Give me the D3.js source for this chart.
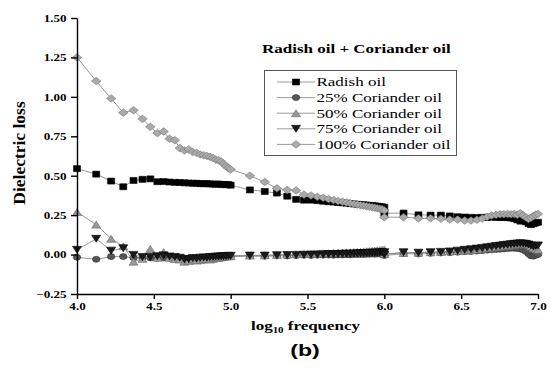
<!DOCTYPE html>
<html>
<head>
<meta charset="utf-8">
<script src="https://cdn.jsdelivr.net/npm/d3@7"></script>
<style>
  body { margin: 0; background: #fff; }
  svg { display: block; }
  svg text { font-family: "Liberation Serif", "Times New Roman", Times, serif; }
  svg text.sans { font-family: "Liberation Sans", Arial, sans-serif; }
</style>
</head>
<body>
<div id="chart"></div>
<script>
// frequency grid: one sweep per decade, offsets in log10 units
const decadeSteps = [0, 0.125, 0.222, 0.301, 0.368, 0.426, 0.477, 0.523, 0.564, 0.602, 0.637, 0.669, 0.699,
  0.727, 0.753, 0.778, 0.802, 0.824, 0.845, 0.865, 0.885, 0.903, 0.921, 0.938, 0.954, 0.970, 0.985];

const seriesNames = ["Radish oil", "25% Coriander oil", "50% Coriander oil", "75% Coriander oil", "100% Coriander oil"];

// dielectric loss (sweep 4-5, sweep 5-6 + end at 6.0, sweep 6-7 + end at 7.0)
const radish = [
  0.545, 0.51, 0.466, 0.43, 0.47, 0.477, 0.48, 0.462, 0.463, 0.46, 0.458, 0.457, 0.455, 0.454, 0.452, 0.452, 0.45, 0.449, 0.45, 0.448, 0.447, 0.446, 0.447, 0.445, 0.444, 0.443, 0.444,
  0.44, 0.41, 0.40, 0.39, 0.37, 0.35, 0.345, 0.345, 0.342, 0.338, 0.335, 0.333, 0.33, 0.328, 0.326, 0.323, 0.321, 0.319, 0.317, 0.316, 0.314, 0.312, 0.311, 0.309, 0.307, 0.305, 0.303, 0.30,
  0.262, 0.263, 0.252, 0.25, 0.25, 0.245, 0.24, 0.238, 0.236, 0.235, 0.236, 0.236, 0.237, 0.236, 0.235, 0.235, 0.234, 0.232, 0.228, 0.22, 0.212, 0.215, 0.208, 0.196, 0.19, 0.195, 0.2, 0.205
];
const cor25 = [
  -0.017, -0.03, -0.013, -0.013, -0.02, -0.02, -0.022, -0.024, -0.022, -0.023, -0.025, -0.024, -0.026, -0.027, -0.025, -0.024, -0.022, -0.021, -0.02, -0.019, -0.018, -0.017, -0.016, -0.015, -0.014, -0.013, -0.012,
  -0.012, -0.01, -0.011, -0.008, -0.009, -0.006, -0.005, -0.006, -0.004, -0.004, -0.003, -0.004, -0.002, -0.002, -0.001, -0.002, 0, 0, 0.001, 0.0, 0.002, 0.002, 0.003, 0.002, 0.004, 0.004, 0.005, 0.005,
  -0.006, 0.006, 0.004, 0.008, 0.01, 0.012, 0.015, 0.018, 0.02, 0.022, 0.025, 0.028, 0.03, 0.032, 0.034, 0.036, 0.038, 0.04, 0.04, 0.038, 0.035, 0.03, 0.02, 0.005, -0.008, -0.01, -0.005, 0.0
];
const cor50 = [
  0.27, 0.19, 0.10, 0.053, -0.045, -0.027, 0.036, -0.02, 0.015, -0.02, -0.028, -0.032, -0.045, -0.04, -0.03, -0.038, -0.035, -0.03, -0.028, -0.032, -0.026, -0.022, -0.02, -0.018, -0.015, -0.013, -0.01,
  -0.01, -0.006, -0.004, -0.002, 0.0, 0.002, 0.004, 0.005, 0.006, 0.008, 0.009, 0.01, 0.011, 0.012, 0.014, 0.015, 0.016, 0.017, 0.018, 0.02, 0.021, 0.022, 0.024, 0.025, 0.027, 0.028, 0.03, 0.032,
  0.004, 0.01, 0.012, 0.015, 0.017, 0.02, 0.022, 0.025, 0.028, 0.032, 0.036, 0.04, 0.044, 0.047, 0.05, 0.053, 0.055, 0.058, 0.06, 0.064, 0.068, 0.07, 0.066, 0.06, 0.05, 0.04, 0.035, 0.03
];
const cor75 = [
  0.03, 0.10, 0.025, 0.04, -0.002, -0.015, -0.015, -0.01, -0.005, -0.012, -0.015, -0.02, -0.03, -0.028, -0.022, -0.025, -0.02, -0.018, -0.02, -0.016, -0.015, -0.013, -0.012, -0.011, -0.01, -0.009, -0.008,
  -0.008, -0.006, -0.006, -0.004, -0.003, -0.002, -0.001, 0, 0.001, 0.002, 0.003, 0.003, 0.004, 0.005, 0.006, 0.006, 0.007, 0.008, 0.009, 0.009, 0.01, 0.011, 0.012, 0.012, 0.013, 0.014, 0.014, 0.015,
  0.0, 0.015, 0.012, 0.015, 0.017, 0.02, 0.025, 0.03, 0.034, 0.038, 0.042, 0.046, 0.05, 0.054, 0.057, 0.06, 0.063, 0.066, 0.068, 0.07, 0.072, 0.07, 0.068, 0.064, 0.058, 0.052, 0.056, 0.058
];
const cor100 = [
  1.25, 1.10, 0.99, 0.90, 0.915, 0.86, 0.81, 0.77, 0.78, 0.735, 0.725, 0.675, 0.66, 0.667, 0.65, 0.645, 0.635, 0.63, 0.625, 0.62, 0.612, 0.602, 0.598, 0.59, 0.575, 0.56, 0.548,
  0.54, 0.50, 0.46, 0.42, 0.41, 0.407, 0.38, 0.375, 0.366, 0.36, 0.352, 0.346, 0.34, 0.335, 0.33, 0.326, 0.321, 0.317, 0.313, 0.31, 0.306, 0.303, 0.30, 0.297, 0.294, 0.29, 0.287, 0.28,
  0.237, 0.237, 0.23, 0.23, 0.227, 0.222, 0.222, 0.216, 0.216, 0.22, 0.228, 0.24, 0.248, 0.252, 0.255, 0.256, 0.257, 0.255, 0.258, 0.252, 0.262, 0.248, 0.236, 0.226, 0.234, 0.244, 0.252, 0.258
];

const xTicks = [4.0, 4.5, 5.0, 5.5, 6.0, 6.5, 7.0];
const yTicks = [-0.25, 0.00, 0.25, 0.50, 0.75, 1.00, 1.25, 1.50];

// x positions: sweep 4-5, sweep 5-6 (+6.0), sweep 6-7 (+7.0)
const logFreq = [].concat(
  decadeSteps.map(s => 4 + s),
  decadeSteps.map(s => 5 + s), [6.0],
  decadeSteps.map(s => 6 + s), [7.0]
);

const width = 551, height = 368;
const SX = 1.36;   // the figure is stretched sideways

const svg = d3.select("#chart").append("svg")
  .attr("width", width).attr("height", height);

const x = d3.scaleLinear().domain([4, 7]).range([77, 538]);
const y = d3.scaleLinear().domain([-0.25, 1.5]).range([294, 18]);

// text helper: horizontally stretched text
function label(g, tx, ty, str, size, weight, anchor) {
  return g.append("text")
    .attr("transform", `translate(${tx},${ty}) scale(${SX},1)`)
    .attr("text-anchor", anchor || "start")
    .style("font-size", size + "px")
    .style("font-weight", weight || "normal")
    .attr("fill", "#000")
    .text(str);
}

// marker shapes (width/height in screen px)
const markers = [
  { fill: "#000", stroke: "#000", path: (w, h) => `M${-w/2},${-h/2}H${w/2}V${h/2}H${-w/2}Z`, w: 7, h: 6 },
  { fill: "#555", stroke: "#333", path: (w, h) => `M${-w/2},0A${w/2},${h/2} 0 1,0 ${w/2},0A${w/2},${h/2} 0 1,0 ${-w/2},0Z`, w: 7.5, h: 6 },
  { fill: "#999", stroke: "#666", path: (w, h) => `M0,${-h/2}L${w/2},${h/2}L${-w/2},${h/2}Z`, w: 9, h: 7 },
  { fill: "#1a1a1a", stroke: "#000", path: (w, h) => `M${-w/2},${-h/2}L${w/2},${-h/2}L0,${h/2}Z`, w: 9, h: 7 },
  { fill: "#aaa", stroke: "#777", path: (w, h) => `M0,${-h/2}L${w/2},0L0,${h/2}L${-w/2},0Z`, w: 9.5, h: 7.5 }
];

const allSeries = [radish, cor25, cor50, cor75, cor100];

const line = d3.line().x(d => x(d[0])).y(d => y(d[1]));

allSeries.forEach((vals, i) => {
  const pts = vals.map((v, k) => [logFreq[k], v]);
  const g = svg.append("g");
  g.append("path")
    .attr("d", line(pts))
    .attr("fill", "none")
    .attr("stroke", "#808080")
    .attr("stroke-width", 0.8);
  const m = markers[i];
  g.selectAll("path.mk").data(pts).enter().append("path")
    .attr("class", "mk")
    .attr("transform", d => `translate(${x(d[0])},${y(d[1])})`)
    .attr("d", m.path(m.w, m.h))
    .attr("fill", m.fill)
    .attr("stroke", m.stroke)
    .attr("stroke-width", 0.6);
});

// axes
const yAxis = svg.append("g")
  .attr("transform", "translate(77,0)")
  .call(d3.axisLeft(y).tickValues(yTicks).tickSize(6).tickSizeOuter(0).tickFormat(d3.format(".2f")));
const xAxis = svg.append("g")
  .attr("transform", "translate(0,294)")
  .call(d3.axisBottom(x).tickValues(xTicks).tickSize(5).tickSizeOuter(0).tickFormat(d3.format(".1f")));

// d3 puts its own font on the axis groups, drop it
yAxis.attr("font-family", null).attr("font-size", null);
xAxis.attr("font-family", null).attr("font-size", null);

yAxis.selectAll("text")
  .attr("x", null).attr("dy", null)
  .attr("transform", "translate(-10.5,3.4) scale(" + SX + ",1)")
  .style("font-size", "9.6px").style("font-weight", "bold").attr("fill", "#000");
xAxis.selectAll("text")
  .attr("y", null).attr("dy", null)
  .attr("transform", "translate(0,16) scale(" + SX + ",1)")
  .style("font-size", "9.6px").style("font-weight", "bold").attr("fill", "#000");

svg.selectAll(".domain, .tick line").attr("stroke", "#000").attr("stroke-width", 1.4);

// axis titles
svg.append("text")
  .attr("transform", "translate(25,153) rotate(-90) scale(1,0.9)")
  .attr("text-anchor", "middle")
  .style("font-size", "17.5px")
  .style("font-weight", "bold")
  .text("Dielectric loss");

const xt = label(svg, 305.5, 330, "", 12.5, "bold", "middle");
xt.append("tspan").text("log");
xt.append("tspan").style("font-size", "8px").attr("dy", 3).text("10");
xt.append("tspan").attr("dy", -3).text(" frequency");

label(svg, 262, 53, "Radish oil + Coriander oil", 12.5, "bold", "start");

// legend
const legend = svg.append("g");
legend.append("rect")
  .attr("x", 264.5).attr("y", 70.5).attr("width", 192).attr("height", 85)
  .attr("fill", "#fff").attr("stroke", "#555").attr("stroke-width", 1);

seriesNames.forEach((name, i) => {
  const ry = 82 + i * 15.6;
  legend.append("line")
    .attr("x1", 277).attr("x2", 315).attr("y1", ry).attr("y2", ry)
    .attr("stroke", "#808080").attr("stroke-width", 0.8);
  const m = markers[i];
  legend.append("path")
    .attr("transform", `translate(296,${ry})`)
    .attr("d", m.path(m.w, m.h))
    .attr("fill", m.fill).attr("stroke", m.stroke).attr("stroke-width", 0.6);
  label(legend, 316.5, ry + 4.3, name, 12.5, "normal", "start");
});

label(svg, 305, 356, "(b)", 17, "bold", "middle").attr("class", "sans");
</script>
</body>
</html>
